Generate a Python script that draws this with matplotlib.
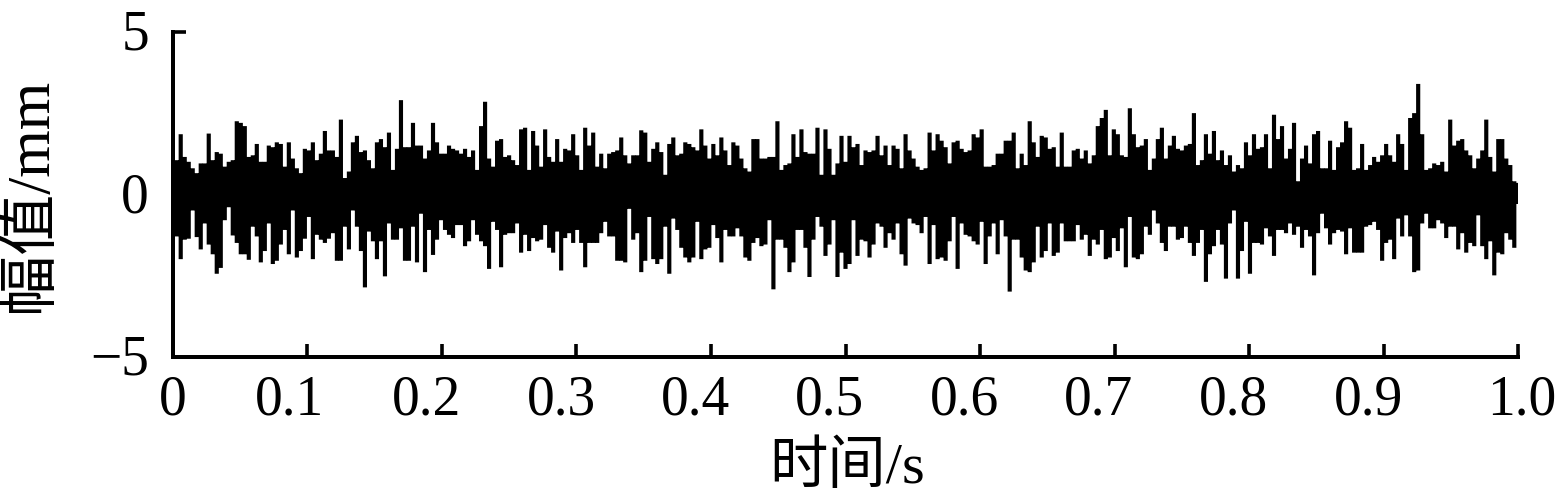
import numpy as np
import matplotlib
matplotlib.use("Agg")
import matplotlib.pyplot as plt
from matplotlib.transforms import ScaledTranslation

upper_a = [1.5,1.05,1.85,1.15,1.0,.8,.65,.95,.95,1.87,
 1.05,1.3,1.25,.85,1.0,1.05,2.25,2.2,2.1,1.15,
 1.2,1.55,1.0,1.0,1.5,1.45,1.6,1.55,.85,1.6,
 1.1,.8,.65,1.4,1.35,1.6,1.05,1.25,1.95,1.35,
 1.35,1.15,2.3,.5,.7,1.6,1.8,1.3,1.35,1.05,
 .8,1.6,1.7,1.45,1.9,.75,1.4,2.9,1.45,1.45,
 2.2,1.5,1.5,1.1,1.35,2.2,1.6,1.25,1.25,1.5,
 1.4,1.35,1.25,1.4,1.15,1.35,.75,2.1,2.85,1.1,
 .85,1.65,1.7,1.15,1.2,1.05,.9,2.0,2.05,.75,
 1.95,1.5,.85,2.0,1.15,1.0,1.7,1.0,1.4,1.35,
 1.85,1.2,.75,2.05,1.5,1.9,.85,1.25,.8,1.25,
 1.3,1.35]
lower_a = [-1.5,-1.3,-2.0,-1.4,-1.37,-.5,-1.32,-1.7,-.9,-1.55,
 -1.85,-2.45,-2.27,-.8,-.4,-1.27,-1.5,-1.85,-1.85,-2.02,
 -1.0,-1.3,-2.1,-1.75,-.9,-2.15,-2.05,-1.55,-1.1,-1.85,
 -.5,-1.95,-1.75,-1.37,-.7,-2.0,-1.25,-1.4,-1.5,-1.37,
 -1.2,-2.05,-2.05,-1.0,-1.7,-.5,-1.0,-1.75,-2.87,-1.15,
 -1.45,-2.0,-1.45,-2.53,-.9,-1.4,-1.4,-1.05,-2.05,-2.05,
 -1.0,-2.1,-.6,-2.4,-1.1,-1.87,-1.4,-.8,-1.1,-1.25,
 -1.35,-.95,-.95,-1.6,-1.45,-.8,-1.25,-1.45,-1.6,-2.3,
 -.85,-1.1,-2.25,-1.25,-1.2,-1.2,-.9,-1.8,-1.25,-1.75,
 -1.35,-1.45,-1.4,-.95,-1.65,-1.8,-1.15,-2.35,-1.35,-1.2,
 -1.5,-1.1,-1.5,-2.25,-1.5,-1.5,-1.5,-1.2,-.85,-1.3,
 -1.3,-2.05]
upper_b = [1.75,1.2,.95,1.2,1.2,1.97,1.9,1.0,1.4,1.6,
 1.3,.6,1.55,1.75,1.2,1.25,1.6,1.55,1.45,1.35,
 2.0,1.5,1.1,1.55,1.2,1.75,1.35,.9,1.6,1.5,
 1.1,.8,.7,1.7,1.7,1.1,1.1,1.15,1.15,2.25,
 .75,.9,.95,1.85,1.15,2.0,1.3,1.25,1.25,2.05,
 .6,2.0,1.4,.6,.95,1.8,1.0,1.8,1.45,1.55,
 .9,1.35,1.3,1.35,1.8,1.2,1.5,.9,1.5,1.4,
 .8,1.85,1.35,1.1,.85,.75,.8,1.9,1.35,1.85,
 1.65,1.45,.95,1.6,1.65,1.4,1.3,1.35,1.85,1.75,
 2.0,.85,.85,.9,1.25,1.25,1.65,1.65,1.9,.8,
 1.25,.9,2.25,1.6,1.15,1.8,1.75,1.4,1.45,.85,
 1.9,.85,.85]
lower_b = [-2.05,-2.1,-.45,-1.4,-1.2,-2.4,-2.05,-.7,-2.0,-2.15,
 -2.0,-1.0,-2.45,-.75,-1.1,-1.65,-1.95,-2.1,-1.95,-.85,
 -2.0,-1.7,-1.65,-.95,-1.35,-2.1,-1.1,-1.3,-1.3,-1.05,
 -1.3,-1.95,-2.05,-1.5,-1.35,-1.6,-1.55,-.8,-2.93,-1.4,
 -1.4,-1.65,-2.4,-2.1,-1.1,-1.1,-1.65,-2.55,-1.4,-.7,
 -1.0,-1.9,-1.55,-.8,-2.55,-1.8,-2.3,-2.15,-.8,-1.9,
 -1.4,-1.45,-1.95,-1.55,-.9,-1.0,-1.65,-1.2,-1.4,-.9,
 -1.85,-2.2,-.75,-.9,-.95,-1.2,-.7,-2.15,-.95,-2.0,
 -1.95,-2.05,-1.45,-.7,-2.3,-.9,-1.25,-1.3,-1.45,-1.55,
 -.85,-2.15,-1.3,-.9,-1.85,-.8,-1.3,-3.0,-1.4,-1.4,
 -1.95,-2.35,-2.4,-2.1,-1.0,-1.95,-1.75,-.9,-1.9,-1.8,
 -.9,-1.45,-1.45]
upper_c = [1.35,1.4,1.1,1.35,.95,1.2,2.1,2.35,2.6,1.2,
 2.0,1.85,1.2,1.15,2.65,1.85,1.45,1.5,1.7,.75,
 1.1,1.7,2.05,1.1,1.5,1.8,1.4,1.35,1.5,1.55,
 2.5,.9,1.05,1.85,1.25,1.95,1.05,1.35,.9,1.2,
 .7,.9,.8,1.6,1.2,1.85,1.4,1.45,1.85,.8,
 2.45,1.7,2.1,1.1,1.4,2.2,.4,1.1,1.5,.95,
 1.85,1.95,.8,.8,1.65,.75,1.45,1.6,2.25,2.05,
 .75,.8,1.55,.75,.9,1.15,1.0,1.2,1.55,1.2,
 1.0,1.85,1.55,.75,2.35,2.5,3.4,1.85,.75,.8,
 .95,.9,1.0,.7,2.3,1.5,1.65,1.7,1.35,1.2,
 .8,1.1,1.35,2.3,1.15,.7,1.7,1.7,1.1,.9,
 .4,.35]
lower_c = [-1.45,-.95,-1.4,-1.25,-1.9,-1.4,-1.55,-1.1,-2.0,-1.95,
 -1.35,-1.75,-1.05,-2.25,-.7,-1.95,-2.0,-1.85,-1.0,-1.25,
 -.5,-.9,-1.5,-1.75,-1.0,-1.0,-1.4,-1.35,-1.0,-1.5,
 -1.9,-1.5,-1.1,-2.7,-1.85,-1.6,-1.1,-1.55,-2.6,-.9,
 -.5,-2.6,-1.75,-.85,-2.45,-1.5,-1.5,-1.55,-1.05,-1.3,
 -1.9,-1.1,-1.1,-1.2,-.9,-1.25,-1.0,-1.65,-1.1,-1.3,
 -2.5,-1.2,-.6,-1.05,-1.55,-1.2,-1.1,-1.15,-1.85,-1.05,
 -1.8,-1.8,-1.8,-1.0,-.95,-.85,-1.1,-2.05,-1.5,-1.4,
 -2.0,-.75,-1.3,-.65,-1.3,-2.4,-2.35,-.9,-.6,-1.05,
 -1.05,-.8,-.9,-1.35,-1.0,-1.0,-1.7,-1.2,-1.8,-1.5,
 -1.6,-.65,-1.6,-2.0,-1.45,-2.5,-1.8,-1.85,-1.2,-1.4,
 -1.65,-.3]
x_ticks = [0, .1, .2, .3, .4, .5, .6, .7, .8, .9, 1.0]
x_tick_labels = ["0", "0.1", "0.2", "0.3", "0.4", "0.5", "0.6", "0.7", "0.8", "0.9", "1.0"]
y_ticks = [-5, 0, 5]
y_tick_labels = ["\u22125", "0", "5"]

upper = np.array(upper_a + upper_b + upper_c)
lower = np.array(lower_a + lower_b + lower_c)
t = np.linspace(0, 1, len(upper))
# each sample is one stroke from its low to its high excursion
times = np.column_stack([t, t, np.full_like(t, np.nan)]).ravel()
signal = np.column_stack([lower, upper, np.full_like(t, np.nan)]).ravel()

W, H = 1556, 495
fig = plt.figure(figsize=(W / 100, H / 100), dpi=100)
ax = fig.add_axes([172.7 / W, 1 - 356.5 / H, (1518.3 - 172.7) / W, (356.5 - 32) / H])
px = 72 / 100
line, = ax.plot(times, signal, color="black", lw=4.15 * px, solid_capstyle="butt", zorder=3)
line.set_snap(False)
ax.set_xlim(0, 1)
ax.set_ylim(-5, 5)
ax.spines["top"].set_visible(False)
ax.spines["right"].set_visible(False)
ax.spines["left"].set_linewidth(4 * px)
ax.spines["bottom"].set_linewidth(4 * px)
ax.set_xticks(x_ticks, x_tick_labels)
ax.set_yticks(y_ticks, y_tick_labels)
serif = ["Liberation Serif", "Noto Sans CJK SC"]
ax.tick_params(axis="x", direction="in", length=13 * px, width=3.6 * px, labelsize=40, pad=13)
ax.tick_params(axis="y", direction="in", length=13 * px, width=3.6 * px, labelsize=40, pad=17)
label_dx = [0, -18, -15, -15, -15, -16, -16, -16, -16, -15, 3]
for lab, dx in zip(ax.get_xticklabels(), label_dx):
    lab.set_family(serif)
    lab.set_transform(lab.get_transform() + ScaledTranslation(dx / 100, 0, fig.dpi_scale_trans))
for lab in ax.get_yticklabels():
    lab.set_family(serif)
    lab.set_transform(lab.get_transform() + ScaledTranslation(0, 2 / 100, fig.dpi_scale_trans))
fig.text(847 / W, 1 - 468 / H, "时间/s", family=serif, fontsize=42, ha="center", va="center")
fig.text(31 / W, 1 - 194.5 / H, "幅值/mm", family=serif, fontsize=44, rotation=90, ha="center", va="center")
fig.savefig("out.png", dpi=100)
